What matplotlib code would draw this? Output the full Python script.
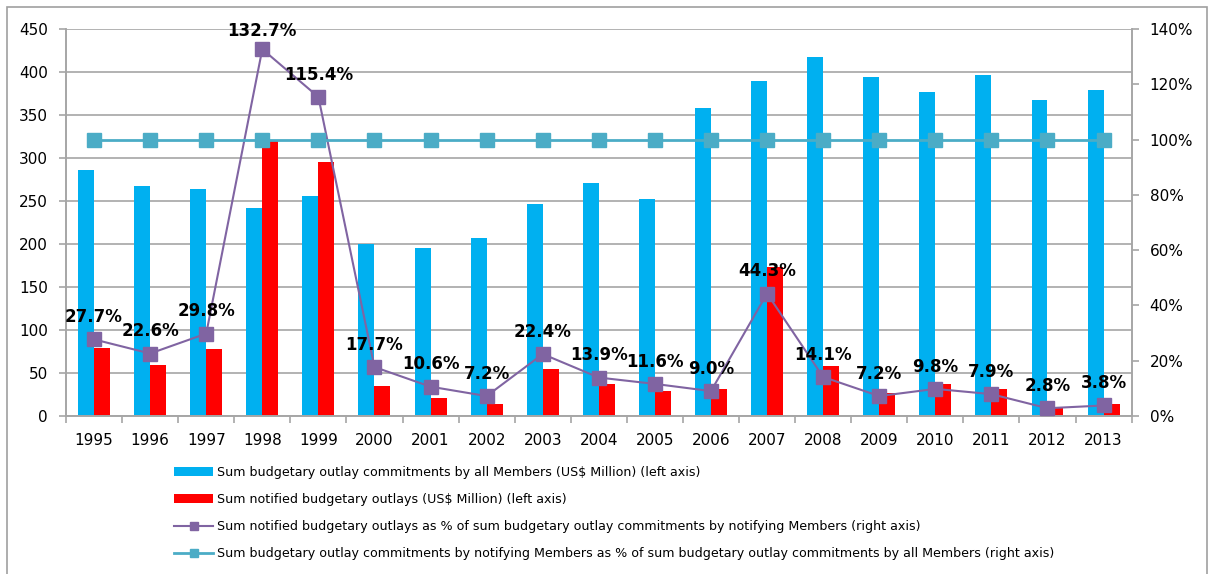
import numpy as np
import matplotlib
matplotlib.use("Agg")
import matplotlib.pyplot as plt
from matplotlib.patches import Rectangle
from matplotlib.ticker import FuncFormatter

years = ['1995', '1996', '1997', '1998', '1999', '2000', '2001', '2002', '2003', '2004',
         '2005', '2006', '2007', '2008', '2009', '2010', '2011', '2012', '2013']

# US$ million, left axis
all_members = [286, 267, 264, 242, 256, 200, 195, 207, 247, 271,
               252, 358, 390, 417, 394, 377, 396, 367, 379]
notified = [79, 59, 78, 320, 295, 35, 21, 14, 55, 37,
            29, 31, 173, 58, 27, 37, 31, 9, 14]

# percentages, right axis
notified_pct = [27.7, 22.6, 29.8, 132.7, 115.4, 17.7, 10.6, 7.2, 22.4, 13.9,
                11.6, 9.0, 44.3, 14.1, 7.2, 9.8, 7.9, 2.8, 3.8]
coverage_pct = [100] * 19

lbl_all = 'Sum budgetary outlay commitments by all Members (US$ Million) (left axis)'
lbl_notified = 'Sum notified budgetary outlays (US$ Million) (left axis)'
lbl_npct = ('Sum notified budgetary outlays as % of sum budgetary outlay commitments '
            'by notifying Members (right axis)')
lbl_cov = ('Sum budgetary outlay commitments by notifying Members as % of sum budgetary '
           'outlay commitments by all Members (right axis)')

grid_c = '#a6a6a6'
x = np.arange(len(years))
w = 0.285

fig = plt.figure(figsize=(12.09, 5.74), dpi=100)
ax = fig.add_axes([0.0546, 0.2753, 0.8814, 0.6742])
ax2 = ax.twinx()

b1 = ax.bar(x - w / 2, all_members, w, color='#00b0f0', label=lbl_all, zorder=2)
b2 = ax.bar(x + w / 2, notified, w, color='#ff0000', label=lbl_notified, zorder=2)

l1, = ax2.plot(x, notified_pct, color='#8064a2', lw=1.5, marker='s', ms=10.5,
               label=lbl_npct, zorder=3)
l2, = ax2.plot(x, coverage_pct, color='#4bacc6', lw=2, marker='s', ms=10.5,
               label=lbl_cov, zorder=3)

for i, v in enumerate(notified_pct):
    dy = 13 if v > 130 else 16
    ax2.annotate(f'{v:.1f}%', (x[i], v), xytext=(0, dy), textcoords='offset points',
                 ha='center', va='center', fontsize=12, fontweight='bold', color='black',
                 zorder=5)

ax.set_xlim(-0.5, len(years) - 0.5)
ax.set_ylim(0, 450)
ax.set_yticks(np.arange(0, 451, 50))
ax2.set_ylim(0, 140)
ax2.set_yticks(np.arange(0, 141, 20))
ax2.yaxis.set_major_formatter(FuncFormatter(lambda v, p: f'{v:.0f}%'))

ax.set_xticks(np.arange(-0.5, len(years), 1))
ax.set_xticklabels([])
ax.set_xticks(x, minor=True)
ax.set_xticklabels(years, minor=True)
ax.tick_params(axis='x', which='major', length=5, color=grid_c, width=1.2)
ax.tick_params(axis='x', which='minor', length=0, pad=12, labelsize=11)
ax.tick_params(axis='y', length=5, color=grid_c, width=1.2, pad=8, labelsize=11)
ax2.tick_params(axis='y', length=5, color=grid_c, width=1.2, pad=8, labelsize=11)

ax.yaxis.grid(True, color=grid_c, lw=1.2, zorder=0)
ax.set_axisbelow(True)
for a in (ax, ax2):
    a.spines['top'].set_visible(False)
    for s in ('left', 'right', 'bottom'):
        a.spines[s].set_color(grid_c)
        a.spines[s].set_linewidth(1.2)

fig.legend(handles=[b1, b2, l1, l2], loc='upper left', bbox_to_anchor=(0.14, 0.197),
           frameon=False, fontsize=9.1, handlelength=3.1, handletextpad=0.25,
           labelspacing=1.12, markerscale=0.55, borderaxespad=0)

fig.patches.append(Rectangle((0.006, -0.01), 0.992, 0.998, transform=fig.transFigure,
                             fill=False, edgecolor='#a0a0a0', lw=1.2))

fig.savefig('out.png', dpi=100)
